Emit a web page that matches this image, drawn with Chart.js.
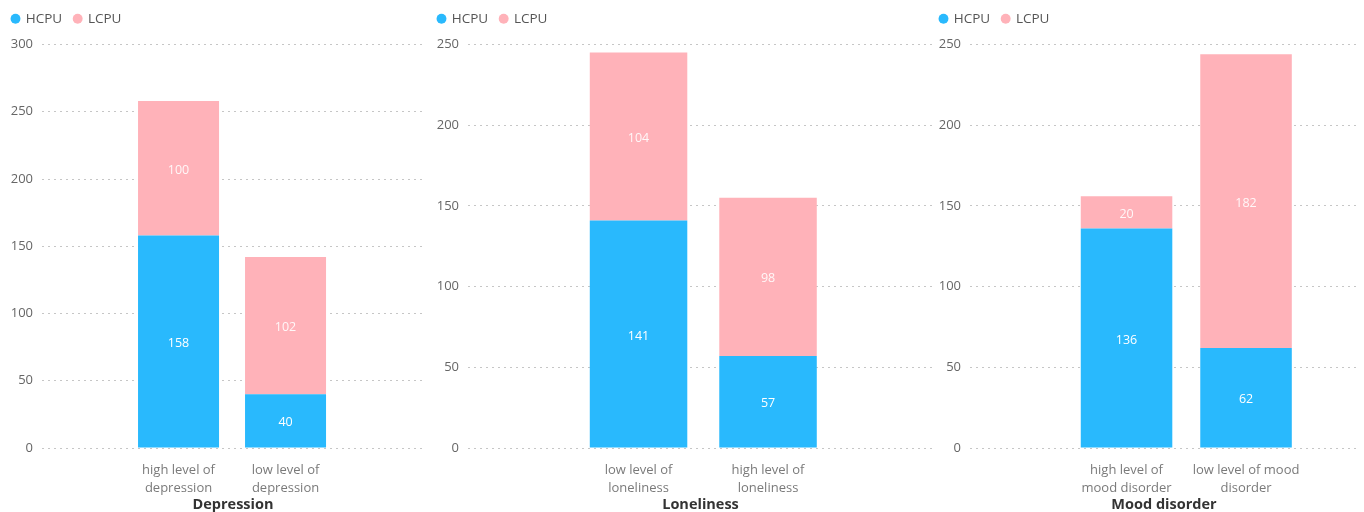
<!DOCTYPE html>
<html>
<head>
<meta charset="utf-8">
<script src="https://cdn.jsdelivr.net/npm/chart.js@4/dist/chart.umd.min.js"></script>
<style>
  html, body { margin: 0; padding: 0; background: #fff; }
  body { width: 1364px; height: 512px; position: relative; overflow: hidden; }
  .panel { position: absolute; top: 0; height: 512px; }
</style>
</head>
<body>
<div class="panel" id="p1" style="left:0px;width:426px;"><canvas id="c1"></canvas></div>
<div class="panel" id="p2" style="left:426px;width:509px;"><canvas id="c2"></canvas></div>
<div class="panel" id="p3" style="left:928px;width:436px;"><canvas id="c3"></canvas></div>
<script>
// ---- data ----
const seriesNames = ["HCPU", "LCPU"];

const depressionCategories = [["high level of", "depression"], ["low level of", "depression"]];
const depressionHCPU = [158, 40];
const depressionLCPU = [100, 102];

const lonelinessCategories = [["low level of", "loneliness"], ["high level of", "loneliness"]];
const lonelinessHCPU = [141, 57];
const lonelinessLCPU = [104, 98];

const moodCategories = [["high level of", "mood disorder"], ["low level of mood", "disorder"]];
const moodHCPU = [136, 62];
const moodLCPU = [20, 182];

const axisTitles = ["Depression", "Loneliness", "Mood disorder"];
const yMaxValues = [300, 250, 250];
const yStep = 50;

// ---- styles ----
const FONT = "'Open Sans', 'Noto Sans', sans-serif";
const BLUE = "#29B9FD";
const PINK = "#FFB2B9";

const valueLabels = {
  id: "valueLabels",
  afterDatasetsDraw(chart) {
    const ctx = chart.ctx;
    ctx.save();
    ctx.font = "12.5px " + FONT;
    ctx.textAlign = "center";
    ctx.textBaseline = "middle";
    chart.data.datasets.forEach((ds, di) => {
      const meta = chart.getDatasetMeta(di);
      if (meta.hidden) return;
      meta.data.forEach((bar, i) => {
        const p = bar.getProps(["x", "y", "base"], true);
        ctx.fillStyle = di === 0 ? "#ffffff" : "rgba(255,255,255,0.9)";
        ctx.fillText(String(ds.data[i]), p.x, (p.y + p.base) / 2 + 2);
      });
    });
    ctx.restore();
  }
};

const legendSpacing = {
  id: "legendSpacing",
  beforeInit(chart) {
    const legend = chart.legend;
    const origFit = legend.fit;
    legend.fit = function () {
      origFit.call(this);
      this.height += 9;
    };
  }
};

function makeChart(canvasId, categories, hcpu, lcpu, title, yMax, view, padRight) {
  const ctx = document.getElementById(canvasId).getContext("2d");
  return new Chart(ctx, {
    type: "bar",
    data: {
      labels: categories,
      datasets: [
        { label: seriesNames[0], data: hcpu, backgroundColor: BLUE, borderWidth: 0,
          categoryPercentage: view.bar, barPercentage: 1 },
        { label: seriesNames[1], data: lcpu, backgroundColor: PINK, borderWidth: 0,
          categoryPercentage: view.bar, barPercentage: 1 }
      ]
    },
    options: {
      responsive: true,
      maintainAspectRatio: false,
      animation: false,
      layout: { padding: { left: 0, right: padRight, top: 0, bottom: 0 } },
      plugins: {
        legend: {
          position: "top",
          align: "start",
          labels: {
            usePointStyle: true,
            pointStyle: "circle",
            boxWidth: 7,
            boxHeight: 7,
            padding: 12,
            color: "#555555",
            font: { family: FONT, size: 13.5 }
          }
        },
        tooltip: { enabled: false }
      },
      scales: {
        x: {
          stacked: true,
          grid: { display: false, drawTicks: false },
          border: { display: false },
          afterBuildTicks(scale) {
            scale._startValue = view.start;
            scale._valueRange = view.range;
          },
          afterFit(scale) { scale.height = 64; },
          ticks: {
            autoSkip: false,
            maxRotation: 0,
            minRotation: 0,
            padding: 13,
            color: "#7a7a7a",
            font: { family: FONT, size: 13, lineHeight: 1.4 }
          },
          title: {
            display: true,
            text: title,
            color: "#333333",
            padding: 0,
            font: { family: FONT, size: 14.5, weight: "bold", lineHeight: 1 }
          }
        },
        y: {
          stacked: true,
          min: 0,
          max: yMax,
          afterFit(scale) { scale.width = 42; },
          grid: { color: "#c6c6c6", lineWidth: 1, drawTicks: false },
          border: { display: false, dash: [2, 4] },
          ticks: {
            stepSize: yStep,
            padding: 9,
            color: "#666666",
            font: { family: FONT, size: 13 }
          }
        }
      }
    },
    plugins: [valueLabels, legendSpacing]
  });
}

makeChart("c1", depressionCategories, depressionHCPU, depressionLCPU, axisTitles[0], yMaxValues[0],
  { start: -1.276, range: 3.570, bar: 0.757 }, 2);
makeChart("c2", lonelinessCategories, lonelinessHCPU, lonelinessLCPU, axisTitles[1], yMaxValues[1],
  { start: -1.317, range: 3.591, bar: 0.753 }, 2);
makeChart("c3", moodCategories, moodHCPU, moodLCPU, axisTitles[2], yMaxValues[2],
  { start: -1.310, range: 3.247, bar: 0.766 }, 6);
</script>
</body>
</html>
